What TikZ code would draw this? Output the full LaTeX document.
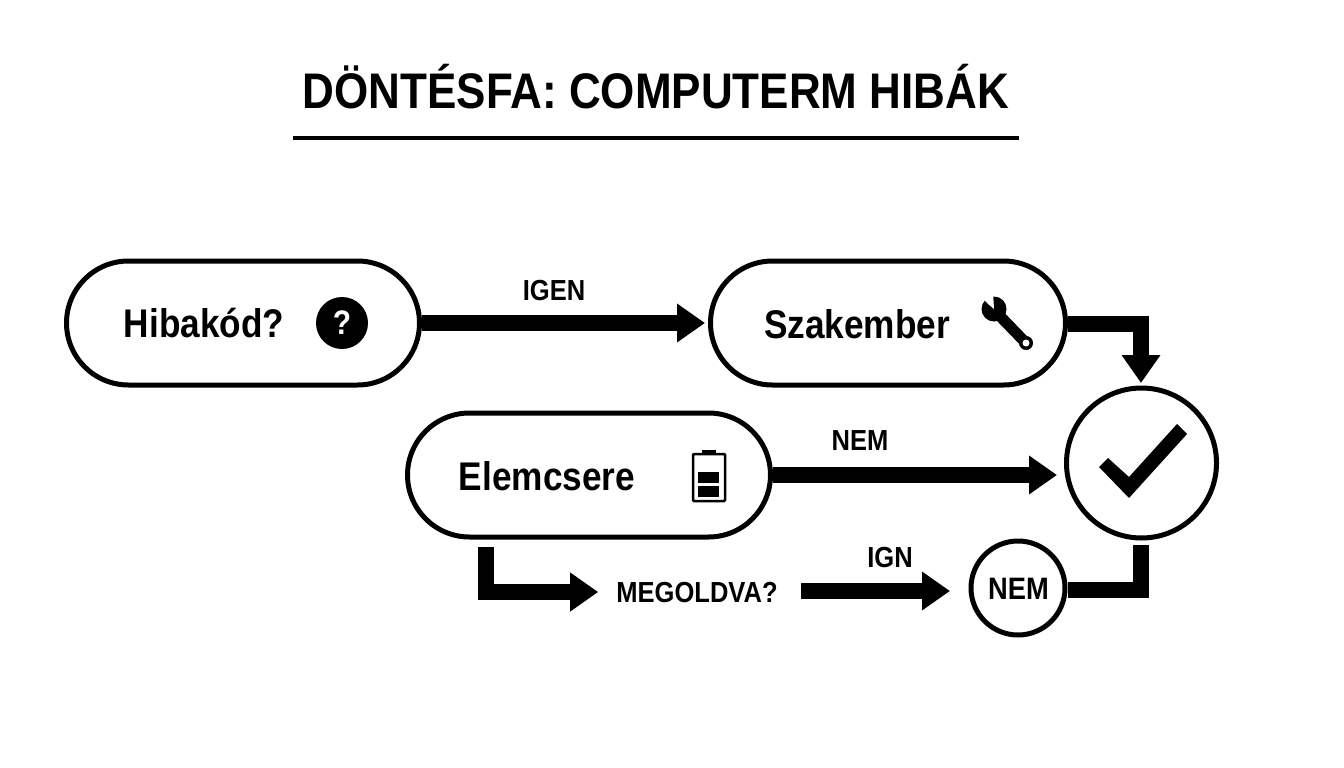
\documentclass[tikz,border=0pt]{standalone}
\usepackage{fontspec}
\setmainfont{Liberation Sans}[BoldFont={Liberation Sans Bold},BoldFeatures={FakeStretch=0.88}]
\usetikzlibrary{arrows.meta,calc}
\tikzset{
  x=1pt,y=-1pt,
  pill/.style={draw=black,fill=white,line width=5pt,rectangle,rounded corners=62pt,minimum height=124pt,inner sep=0pt},
  ring/.style={draw=black,fill=white,line width=5pt,circle,inner sep=0pt},
  label/.style={font=\bfseries\fontsize{#1}{#1}\selectfont,anchor=base,inner sep=0pt,text=black},
  conn/.style={draw=black,line width=16pt,line join=miter,-{Triangle[length=28pt,width=37pt]}},
  plainconn/.style={draw=black,line width=16pt,line join=miter},
}
\begin{document}
\begin{tikzpicture}
\useasboundingbox (0,0) rectangle (1344,768);
% title
\node[label=50] (title) at (656,108) {DÖNTÉSFA: COMPUTERM HIBÁK};
\coordinate (ruleL) at (293,137.5);
\coordinate (ruleR) at (1019,137.5);
\draw[line width=4pt] (ruleL) -- (ruleR);
% boxes
\node[pill,minimum width=353pt] (n1) at (243,323) {};
\node[pill,minimum width=355pt] (n2) at (888,323) {};
\node[pill,minimum width=363pt] (n3) at (589,475) {};
\node[ring,minimum size=150pt] (ok) at (1141.5,463) {};
\node[ring,minimum size=94pt] (no) at (1018,588) {};
% texts
\node[label=40] (t1) at (204,337) {Hibakód?};
\node[label=40] (t2) at (857,338) {Szakember};
\node[label=40] (t3) at (547,490) {Elemcsere};
\node[label=31] (t4) at (1018.5,599) {NEM};
\node[label=29,inner xsep=2pt] (mego) at (697,602) {MEGOLDVA?};
\node[label=29] (l1) at (554,300) {IGEN};
\node[label=29] (l2) at (860,450) {NEM};
\node[label=29] (l3) at (890,567) {IGN};
% connectors
\coordinate (s2) at ($(n2.east)+(0,1)$);
\coordinate (e2) at (1141,383);
\coordinate (s3) at (486,547);
\coordinate (b3) at (486,590);
\coordinate (s4) at (1141,545);
\coordinate (e5) at (950,591);
\coordinate (s5) at (801,591);
\coordinate (e6) at (1057,475);
\draw[conn,shorten >=3pt,yshift=-1pt] (n1.east) -- (n2.west);
\draw[conn] (s2) -| (e2);
\draw[conn] (n3.east) -- (e6);
\draw[conn,shorten >=16pt] (s3) |- (mego.west);
\draw[conn] (s5) -- (e5);
\draw[plainconn] (s4) |- ($(no.east)+(0,2)$);
% question icon
\node[circle,fill=black,minimum size=52pt,inner sep=0pt] (q) at (342,323) {};
\node[font=\bfseries\fontsize{34}{34}\selectfont,text=white,inner sep=0pt] (qm) at (342,323) {?};
% wrench icon
\fill[black] (994,309) circle (12.5);
\fill[white] (994,309) -- ++(-6,-5) -- ++(-10,-11) -- ++(11,-3) -- ++(4,2) -- cycle;
\draw[line width=11pt,black] (996,312) -- (1025,342);
\fill[black] (1026,343) circle (7);
\fill[white] (1026,343) circle (3.5);
% battery icon
\draw[line width=2.5pt,rounded corners=1pt] (693,454) rectangle (725,501);
\fill[black] (702,450) rectangle (716,454);
\fill[black] (698,472) rectangle (719,483);
\fill[black] (698,486) rectangle (719,497);
% check mark
\fill[black] (1099,467) -- (1108,458) -- (1129,477) -- (1177,424) -- (1187,434) -- (1129,498) -- cycle;
\end{tikzpicture}
\end{document}
